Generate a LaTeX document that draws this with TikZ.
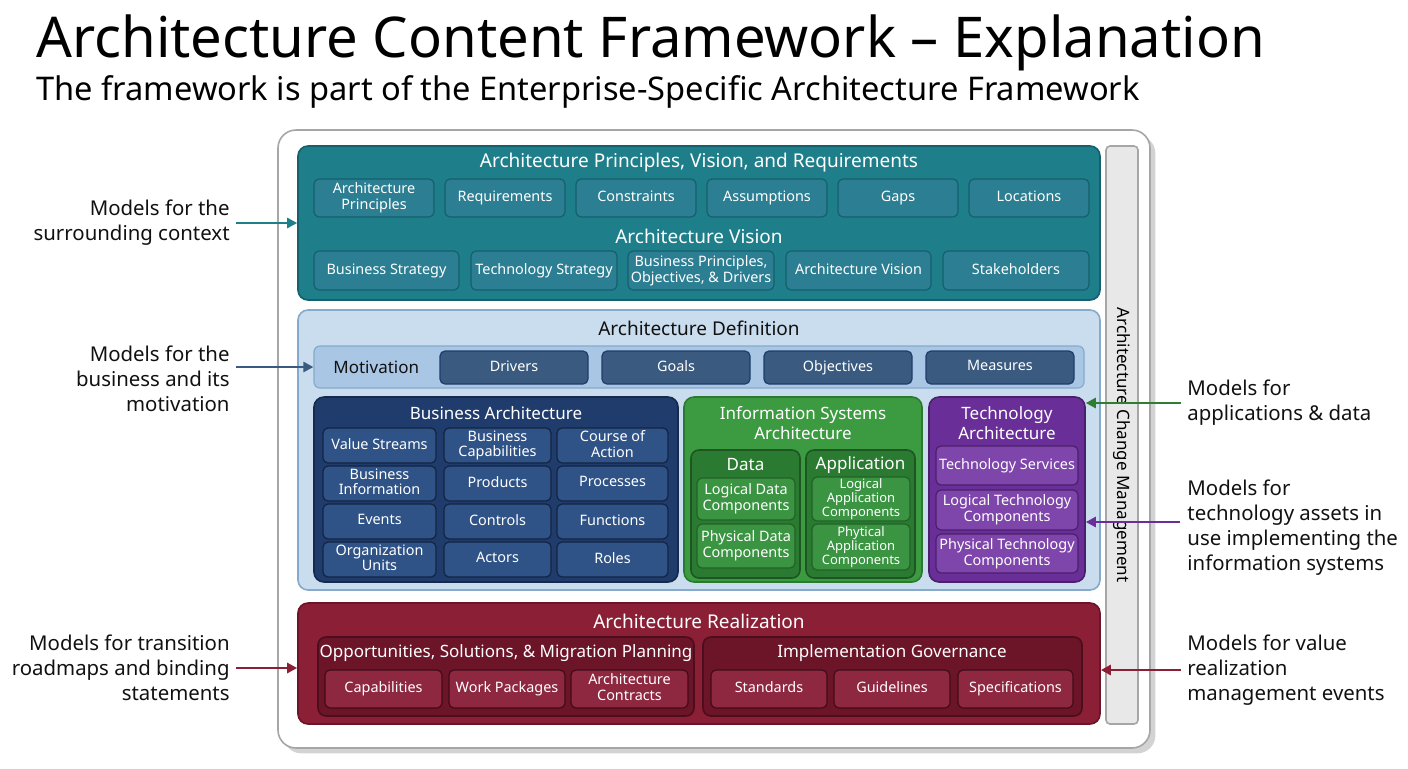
\documentclass[tikz,border=0pt]{standalone}
\usepackage{fontspec}
\setmainfont{Noto Sans}
\usetikzlibrary{arrows.meta,shadows}
\definecolor{teal1}{HTML}{1E7E8A}\definecolor{teal2}{HTML}{2C7E92}\definecolor{tealb}{HTML}{14606C}
\definecolor{def1}{HTML}{CADDEF}\definecolor{defb}{HTML}{86AACB}\definecolor{mot}{HTML}{A9C7E5}\definecolor{motb}{HTML}{3A5A80}
\definecolor{nav1}{HTML}{1F3C6D}\definecolor{nav2}{HTML}{2F5386}
\definecolor{grn1}{HTML}{3C9B40}\definecolor{grn2}{HTML}{2A7B31}\definecolor{grn3}{HTML}{3A9442}
\definecolor{pur1}{HTML}{6A2E99}\definecolor{pur2}{HTML}{7E45AA}
\definecolor{red1}{HTML}{8A1F36}\definecolor{red2}{HTML}{6C1428}\definecolor{red3}{HTML}{8E2840}
\definecolor{lbl}{HTML}{111111}
\newcommand\B[7]{\pgfmathsetmacro\bw{(#5-#3)*0.5}\pgfmathsetmacro\bh{(#6-#4)*0.5}%
 \node[#1, minimum width=\bw pt, minimum height=\bh pt] (#2) at ({(#3+#5)/2},{(#4+#6)/2}) {#7};}
\tikzset{
 box/.style={rounded corners=2.5pt, inner sep=0pt, align=center, text=white, font=\fontsize{7.2}{7.8}\selectfont, line width=0.6pt, execute at begin node={\vphantom{Ag}}, execute at end node={\vphantom{Ag}}},
 panel/.style={rounded corners=5pt, inner sep=0pt, line width=0.8pt},
 ttl/.style={text=white, font=\fontsize{9.5}{11}\selectfont, align=center, inner sep=0pt},
 stl/.style={text=white, font=\fontsize{8.5}{10}\selectfont, align=center, inner sep=0pt},
 lab/.style={text=lbl, font=\fontsize{10.2}{12.5}\selectfont, inner sep=0pt},
 arr/.style={-{Triangle[length=5pt,width=5pt]}, line width=1.3pt},
}
\begin{document}
\begin{tikzpicture}[x=0.5pt,y=-0.5pt]
\useasboundingbox (0,0) rectangle (1408,768);
\node[anchor=base west, inner sep=0pt, font=\fontsize{28.1}{30}\selectfont] (title) at (36,57) {Architecture Content Framework – Explanation};
\node[anchor=base west, inner sep=0pt, font=\fontsize{16.3}{18}\selectfont] (sub) at (36,100) {The framework is part of the Enterprise-Specific Architecture Framework};
% frame
\B{panel, draw=gray!70, fill=white, rounded corners=9pt, drop shadow={opacity=0.35}}{frame}{278}{130}{1150}{748}{}
% teal
\B{panel, draw=tealb, fill=teal1}{teal}{298}{146}{1100}{300}{}
\node[ttl] (tt1) at (699,163) {Architecture Principles, Vision, and Requirements};
\tikzset{tb/.style={box, draw=tealb, fill=teal2}}
\B{tb}{a1}{314}{179}{434}{217}{Architecture\\Principles}
\B{tb}{a2}{445}{179}{565}{217}{Requirements}
\B{tb}{a3}{576}{179}{696}{217}{Constraints}
\B{tb}{a4}{707}{179}{827}{217}{Assumptions}
\B{tb}{a5}{838}{179}{958}{217}{Gaps}
\B{tb}{a6}{969}{179}{1089}{217}{Locations}
\node[ttl] (tt2) at (699,236) {Architecture Vision};
\B{tb}{v1}{314}{251}{459}{290}{Business Strategy}
\B{tb}{v2}{471}{251}{617}{290}{Technology Strategy}
\B{tb}{v3}{628}{251}{774}{290}{Business Principles,\\Objectives, \& Drivers}
\B{tb}{v4}{786}{251}{931}{290}{Architecture Vision}
\B{tb}{v5}{943}{251}{1089}{290}{Stakeholders}
% definition
\B{panel, draw=defb, fill=def1}{def}{298}{310}{1100}{590}{}
\node[ttl, text=lbl] (dt) at (699,328) {Architecture Definition};
\B{box, rounded corners=3pt, draw=defb, fill=mot}{mot}{314}{346}{1084}{388}{}
\node[anchor=west, inner sep=0pt, text=lbl, font=\fontsize{8.5}{10}\selectfont] (motl) at (333,367) {Motivation};
\tikzset{mb/.style={box, draw=nav1, fill=motb}}
\B{mb}{m1}{440}{351}{588}{384}{Drivers}
\B{mb}{m2}{602}{351}{750}{384}{Goals}
\B{mb}{m3}{764}{351}{912}{384}{Objectives}
\B{mb}{m4}{926}{351}{1074}{384}{Measures}
% business
\B{panel, draw=nav1!70!black, fill=nav1}{bus}{314}{397}{678}{582}{}
\node[stl] (bt) at (496,413) {Business Architecture};
\tikzset{bb/.style={box, draw=nav1!60!black, fill=nav2}}
\B{bb}{b11}{323}{428}{436}{463}{Value Streams}
\B{bb}{b12}{444}{428}{551}{463}{Business\\Capabilities}
\B{bb}{b13}{557}{428}{668}{463}{Course of\\Action}
\B{bb}{b21}{323}{466}{436}{501}{Business\\Information}
\B{bb}{b22}{444}{466}{551}{501}{Products}
\B{bb}{b23}{557}{466}{668}{501}{Processes}
\B{bb}{b31}{323}{504}{436}{539}{Events}
\B{bb}{b32}{444}{504}{551}{539}{Controls}
\B{bb}{b33}{557}{504}{668}{539}{Functions}
\B{bb}{b41}{323}{542}{436}{577}{Organization\\Units}
\B{bb}{b42}{444}{542}{551}{577}{Actors}
\B{bb}{b43}{557}{542}{668}{577}{Roles}
% IS
\B{panel, draw=grn2, fill=grn1}{isa}{684}{397}{922}{582}{}
\node[stl] (it) at (803,423) {Information Systems\\Architecture};
\B{panel, rounded corners=4pt, draw=grn2!70!black, fill=grn2}{dat}{691}{450}{800}{578}{}
\B{panel, rounded corners=4pt, draw=grn2!70!black, fill=grn2}{app}{806}{450}{915}{578}{}
\node[stl] (dtt) at (745.5,465) {Data};
\node[stl] (att) at (860.5,465) {Application};
\tikzset{gb/.style={box, draw=grn2!80!black, fill=grn3}}
\B{gb}{d1}{697}{478}{795}{520}{Logical Data\\Components}
\B{gb}{d2}{697}{524}{795}{568}{Physical Data\\Components}
\B{gb,font=\fontsize{6.5}{7}\selectfont}{p1}{812}{477}{910}{521}{Logical\\Application\\Components}
\B{gb,font=\fontsize{6.5}{7}\selectfont}{p2}{812}{524}{910}{570}{Phytical\\Application\\Components}
% Tech
\B{panel, draw=pur1!70!black, fill=pur1}{tec}{929}{397}{1085}{582}{}
\node[stl] (tt) at (1007,423) {Technology\\Architecture};
\tikzset{pb/.style={box, draw=pur1!70!black, fill=pur2}}
\B{pb}{t1}{936}{446}{1078}{485}{Technology Services}
\B{pb}{t2}{936}{490}{1078}{530}{Logical Technology\\Components}
\B{pb}{t3}{936}{534}{1078}{573}{Physical Technology\\Components}
% change mgmt
\B{panel, rounded corners=2pt, draw=gray!70, fill=gray!18}{acm}{1106}{146}{1138}{724}{}
\node[rotate=-90, inner sep=0pt, text=black, font=\fontsize{8.5}{10}\selectfont\bfseries] (acml) at (1122,445) {Architecture Change Management};
% realization
\B{panel, draw=red2, fill=red1}{rea}{298}{603}{1100}{724}{}
\node[ttl] (rt) at (699,621) {Architecture Realization};
\B{panel, rounded corners=4pt, draw=red2!70!black, fill=red2}{opp}{318}{637}{694}{716}{}
\B{panel, rounded corners=4pt, draw=red2!70!black, fill=red2}{imp}{703}{637}{1082}{716}{}
\node[stl] (ot) at (506,653) {Opportunities, Solutions, \& Migration Planning};
\node[stl] (ig) at (892,653) {Implementation Governance};
\tikzset{rb/.style={box, draw=red2!60!black, fill=red3}}
\B{rb}{r1}{325}{670}{442}{708}{Capabilities}
\B{rb}{r2}{449}{670}{565}{708}{Work Packages}
\B{rb}{r3}{571}{670}{688}{708}{Architecture\\Contracts}
\B{rb}{r4}{711}{670}{827}{708}{Standards}
\B{rb}{r5}{834}{670}{950}{708}{Guidelines}
\B{rb}{r6}{958}{670}{1073}{708}{Specifications}
% labels
\node[lab, align=right, anchor=east] (L1) at (230,223) {Models for the\\surrounding context};
\node[lab, align=right, anchor=east] (L2) at (230,379) {Models for the\\business and its\\motivation};
\node[lab, align=right, anchor=east] (L3) at (230,668) {Models for transition\\roadmaps and binding\\statements};
\node[lab, align=left, anchor=west] (R1) at (1187,403) {Models for\\applications \& data};
\node[lab, align=left, anchor=west] (R2) at (1187,528) {Models for\\technology assets in\\use implementing the\\information systems};
\node[lab, align=left, anchor=west] (R3) at (1187,670) {Models for value\\realization\\management events};
\coordinate (l2s) at (236,367);
\coordinate (r2s) at (1180,522);
\draw[arr, draw=teal1] ([xshift=3pt]L1.east) -- (L1.east -| teal.west);
\draw[arr, draw=motb] (l2s) -- (l2s -| mot.west);
\draw[arr, draw=red1] ([xshift=3pt]L3.east) -- (L3.east -| rea.west);
\draw[arr, draw=grn1!80!black] ([xshift=-3pt]R1.west) -- (R1.west -| tec.east);
\draw[arr, draw=pur1] (r2s) -- (r2s -| tec.east);
\draw[arr, draw=red1] ([xshift=-3pt]R3.west) -- (R3.west -| rea.east);
\end{tikzpicture}
\end{document}
